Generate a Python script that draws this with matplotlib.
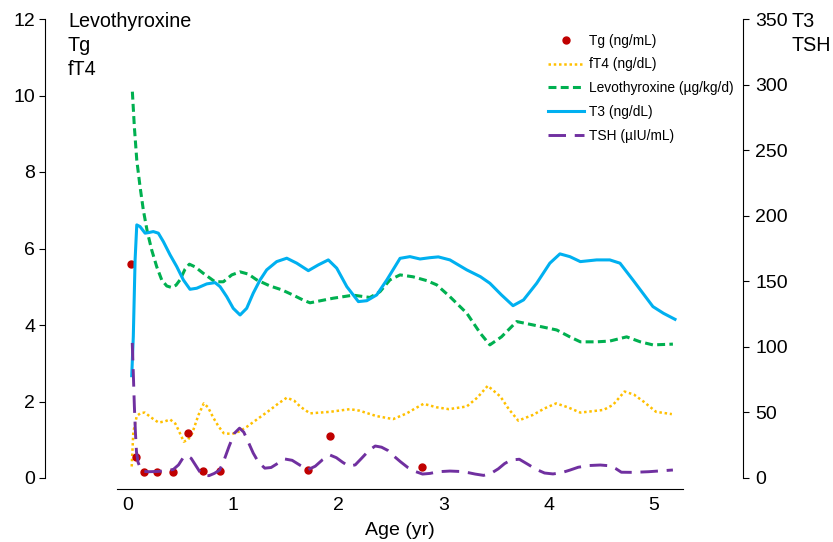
import matplotlib
matplotlib.use("Agg")
import matplotlib.pyplot as plt

plt.rcParams['font.family'] = ['Liberation Sans', 'DejaVu Sans']

# Tg (ng/mL), left axis, single measurements
tg_age = [0.03, 0.08, 0.15, 0.28, 0.43, 0.57, 0.71, 0.87, 1.71, 1.92, 2.79]
tg_val = [5.6, 0.55, 0.16, 0.16, 0.16, 1.18, 0.18, 0.18, 0.2, 1.1, 0.28]

# fT4 (ng/dL), left axis
ft4_age = [0.035, 0.05, 0.083, 0.12, 0.16, 0.22, 0.29, 0.35, 0.40, 0.45, 0.48, 0.53,
           0.57, 0.61, 0.67, 0.72, 0.76, 0.81, 0.86, 0.91, 0.99, 1.06, 1.13, 1.24,
           1.35, 1.43, 1.51, 1.58, 1.64, 1.73, 1.92, 2.11, 2.20, 2.36, 2.52, 2.65,
           2.73, 2.81, 2.93, 3.05, 3.22, 3.32, 3.42, 3.54, 3.62, 3.71, 3.85, 3.96,
           4.07, 4.18, 4.30, 4.52, 4.61, 4.72, 4.81, 4.90, 5.02, 5.17]
ft4_val = [0.30, 1.2, 1.62, 1.70, 1.71, 1.58, 1.45, 1.48, 1.53, 1.42, 1.25, 0.95,
           1.0, 1.17, 1.65, 1.95, 1.85, 1.58, 1.35, 1.17, 1.15, 1.22, 1.34, 1.56,
           1.78, 1.95, 2.10, 2.02, 1.86, 1.69, 1.73, 1.80, 1.76, 1.62, 1.54, 1.69,
           1.82, 1.94, 1.85, 1.80, 1.87, 2.10, 2.41, 2.13, 1.80, 1.50, 1.65, 1.82,
           1.95, 1.85, 1.71, 1.78, 1.91, 2.26, 2.18, 2.0, 1.73, 1.67]

# Levothyroxine (ug/kg/d), left axis
levo_age = [0.041, 0.06, 0.083, 0.114, 0.145, 0.183, 0.225, 0.273, 0.32, 0.368, 0.415,
            0.456, 0.494, 0.542, 0.583, 0.637, 0.716, 0.827, 0.906, 0.986, 1.065,
            1.144, 1.223, 1.35, 1.461, 1.571, 1.666, 1.73, 1.84, 1.95, 2.14, 2.30,
            2.395, 2.49, 2.586, 2.71, 2.84, 2.934, 3.06, 3.22, 3.35, 3.44, 3.55,
            3.695, 3.853, 4.075, 4.20, 4.30, 4.455, 4.58, 4.74, 4.87, 4.99, 5.18]
levo_val = [10.10, 9.18, 8.31, 7.62, 7.01, 6.44, 5.96, 5.52, 5.18, 5.02, 4.98,
            5.04, 5.18, 5.46, 5.59, 5.52, 5.35, 5.13, 5.13, 5.31, 5.39,
            5.33, 5.18, 5.02, 4.92, 4.78, 4.65, 4.58, 4.64, 4.70, 4.78, 4.72,
            4.87, 5.18, 5.31, 5.26, 5.16, 5.05, 4.74, 4.31, 3.78, 3.48, 3.69,
            4.09, 4.00, 3.87, 3.69, 3.56, 3.56, 3.58, 3.69, 3.56, 3.48, 3.50]

# T3 (ng/dL), right axis
t3_age = [0.035, 0.05, 0.067, 0.083, 0.114, 0.162, 0.193, 0.24, 0.288, 0.336, 0.40,
          0.463, 0.526, 0.589, 0.653, 0.748, 0.827, 0.875, 0.938, 1.0, 1.065, 1.128,
          1.19, 1.255, 1.318, 1.413, 1.509, 1.604, 1.714, 1.809, 1.904, 1.984, 2.08,
          2.19, 2.27, 2.364, 2.46, 2.586, 2.68, 2.776, 2.87, 2.95, 3.06, 3.22, 3.35,
          3.44, 3.55, 3.66, 3.76, 3.885, 4.01, 4.106, 4.20, 4.30, 4.455, 4.58, 4.677,
          4.80, 4.99, 5.09, 5.20]
t3_val = [78, 107.8, 166.3, 193, 191.7, 186.7, 187.1, 187.9, 186.7, 180.2, 170.1,
          161.2, 151, 143.9, 144.7, 148, 149, 145.9, 138.3, 129.4, 124.3, 129.4,
          140.9, 151, 158.7, 165, 167.6, 163.8, 158.1, 162.5, 166.3, 160, 145.9,
          134.5, 135.2, 139.6, 151, 167.5, 168.8, 167, 168, 168.6, 166.3, 158.7, 153.5,
          148.5, 139.6, 131.4, 135.8, 148.5, 163.8, 170.9, 168.8, 165, 166.3, 166.3, 163.8,
          151, 130.7, 125.6, 121]

# TSH (uIU/mL), right axis
tsh_age = [0.04, 0.05, 0.06, 0.07, 0.08, 0.095, 0.12, 0.15, 0.2, 0.28, 0.36, 0.43,
           0.48, 0.52, 0.56, 0.60, 0.64, 0.68, 0.72, 0.77, 0.82, 0.87, 0.91, 0.96,
           1.01, 1.06, 1.10, 1.14, 1.19, 1.24, 1.30, 1.36, 1.42, 1.49, 1.56, 1.64,
           1.71, 1.78, 1.85, 1.92, 1.98, 2.04, 2.10, 2.16, 2.22, 2.29, 2.35, 2.41,
           2.47, 2.53, 2.59, 2.66, 2.73, 2.80, 2.87, 2.95, 3.06, 3.15, 3.24, 3.30,
           3.38, 3.45, 3.52, 3.58, 3.64, 3.72, 3.80, 3.88, 3.96, 4.04, 4.12, 4.20,
           4.28, 4.38, 4.49, 4.58, 4.64, 4.69, 4.80, 4.95, 5.18]
tsh_val = [103, 80, 55, 35, 20, 12, 7, 5, 4.8, 5, 5.5, 6.5,
           10, 15, 17, 15, 10, 5, 2, 1.8, 3.5, 6, 13, 24,
           34, 38, 35, 28, 19, 12, 7.5, 8, 11, 14.5, 13.5, 9.5,
           6.3, 9, 14, 17.5, 15.5, 12, 9, 10, 15, 21, 24.4, 23.5,
           21, 16.5, 12.4, 8, 5, 3.0, 3.5, 4.8, 5.3, 5, 4, 3,
           2, 3.5, 7, 11, 13.7, 14.3, 10.5, 6.6, 3.8, 3.1, 4, 6,
           8.2, 9.5, 9.9, 9.3, 7, 4.4, 4.3, 4.8, 6.1]

fig = plt.figure(figsize=(8.33, 5.42), dpi=100)
ax = fig.add_axes([117 / 833, 64 / 542, 566 / 833, 459 / 542])
ax2 = ax.twinx()

l_tg, = ax.plot(tg_age, tg_val, 'o', color='#C00000', markersize=5, label='Tg (ng/mL)', zorder=5)
l_ft4, = ax.plot(ft4_age, ft4_val, color='#FFC000', lw=1.8, dashes=(1, 1.1), label='fT4 (ng/dL)')
l_levo, = ax.plot(levo_age, levo_val, color='#00B050', lw=2.2, dashes=(2.6, 1.4),
                  label='Levothyroxine (µg/kg/d)')
l_t3, = ax2.plot(t3_age, t3_val, color='#00B0F0', lw=2.2, label='T3 (ng/dL)')
l_tsh, = ax2.plot(tsh_age, tsh_val, color='#7030A0', lw=2.1, dashes=(6, 3),
                  label='TSH (µIU/mL)')

ax.set_xlim(-0.105, 5.276)
ax.set_ylim(0, 12)
ax2.set_ylim(0, 350)

ax.set_xticks([0, 1, 2, 3, 4, 5])
ax.set_yticks([0, 2, 4, 6, 8, 10, 12])
ax2.set_yticks([0, 50, 100, 150, 200, 250, 300, 350])

for a in (ax, ax2):
    a.spines['top'].set_visible(False)
ax.spines['right'].set_visible(False)
ax2.spines['left'].set_visible(False)
ax2.spines['bottom'].set_visible(False)
ax.spines['left'].set_position(('outward', 52))
ax.spines['bottom'].set_position(('outward', 8))
ax2.spines['right'].set_position(('outward', 43))

ax.tick_params(axis='x', length=0, pad=6, labelsize=14)
ax.tick_params(axis='y', length=4, width=0.8, pad=3, labelsize=14)
ax2.tick_params(axis='y', length=4, width=0.8, pad=5, labelsize=14)
ax.set_xlabel('Age (yr)', fontsize=14, labelpad=5.5)

fig.text(68 / 833, 1 - 12 / 542, 'Levothyroxine\nTg\nfT4', fontsize=14.2, va='top', ha='left',
         linespacing=1.32)
fig.text(792 / 833, 1 - 12 / 542, 'T3\nTSH', fontsize=14.2, va='top', ha='left',
         linespacing=1.32)

fig.legend(handles=[l_tg, l_ft4, l_levo, l_t3, l_tsh], loc='upper left',
           bbox_to_anchor=(548 / 833, 1 - 33.5 / 542), frameon=False, fontsize=9.9,
           borderpad=0, borderaxespad=0, handlelength=2.6, handletextpad=0.35,
           labelspacing=0.72, numpoints=1)

fig.savefig('out.png', dpi=100)
